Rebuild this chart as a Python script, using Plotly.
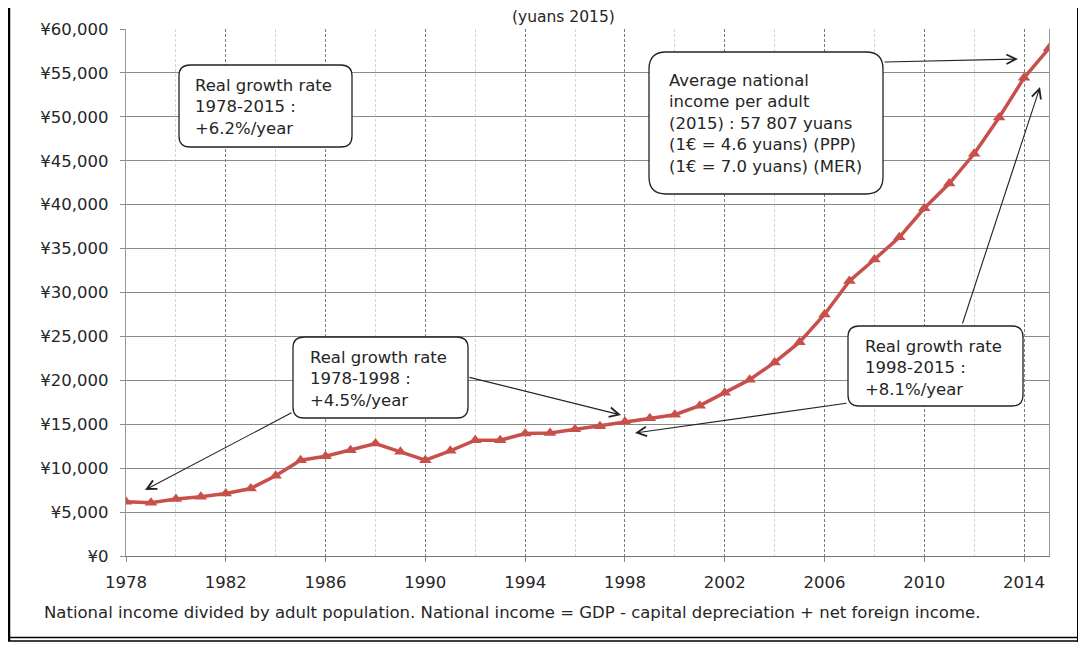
import plotly.graph_objects as go

years = list(range(1978, 2016))
income = [6170, 6060, 6480, 6740, 7120, 7690, 9130, 10910, 11360, 12045,
          12800, 11860, 10910, 11970, 13180, 13180, 13940, 14015, 14430, 14770,
          15280, 15690, 16080, 17120, 18580, 20080, 22040, 24350, 27500, 31320,
          33760, 36280, 39590, 42400, 45790, 49925, 54440, 57807]
y_ticks = list(range(0, 60001, 5000))
x_ticks = list(range(1978, 2015, 4))

title_text = "(yuans 2015)"
footnote = ("National income divided by adult population. National income = GDP - "
            "capital depreciation + net foreign income.")
box_texts = [
    "Real growth rate<br>1978-2015 :<br>+6.2%/year",
    "Real growth rate<br>1978-1998 :<br>+4.5%/year",
    "Real growth rate<br>1998-2015 :<br>+8.1%/year",
    "Average national<br>income per adult<br>(2015) : 57 807 yuans<br>(1€ = 4.6 yuans) (PPP)<br>(1€ = 7.0 yuans) (MER)",
]

# page body has an 8px margin; screen coordinates below are in screenshot pixels
OFF = 8
W, H = 1086 - OFF, 648 - OFF
L, R, T, B = 126, 1049, 29, 556
FONT = "DejaVu Sans, Liberation Sans, sans-serif"
TXT = "#262626"


def px(x):
    return (x - L) / (R - L)


def py(y):
    return (B - y) / (B - T)


def rounded_rect(x0, y0, x1, y1, r):
    def P(x, y):
        return f"{px(x):.5f},{py(y):.5f}"
    return (f"M {P(x0 + r, y0)} L {P(x1 - r, y0)} Q {P(x1, y0)} {P(x1, y0 + r)} "
            f"L {P(x1, y1 - r)} Q {P(x1, y1)} {P(x1 - r, y1)} "
            f"L {P(x0 + r, y1)} Q {P(x0, y1)} {P(x0, y1 - r)} "
            f"L {P(x0, y0 + r)} Q {P(x0, y0)} {P(x0 + r, y0)} Z")


fig = go.Figure()
fig.add_trace(go.Scatter(
    x=years, y=income, mode="lines+markers",
    line=dict(color="#C8504B", width=3.5),
    marker=dict(symbol="triangle-up", size=11, color="#C8504B"),
    showlegend=False, hoverinfo="x+y"))

shapes = []
# outer frame
shapes.append(dict(type="line", xref="paper", yref="paper", x0=px(9), x1=px(9), y0=py(8), y1=py(641),
                   line=dict(color="black", width=2.5)))
shapes.append(dict(type="line", xref="paper", yref="paper", x0=px(1079), x1=px(1079), y0=py(8), y1=py(642),
                   line=dict(color="black", width=4)))
shapes.append(dict(type="line", xref="paper", yref="paper", x0=px(8), x1=px(1079), y0=py(637.5), y1=py(637.5),
                   line=dict(color="black", width=1.5)))
shapes.append(dict(type="line", xref="paper", yref="paper", x0=px(8), x1=px(1079), y0=py(641), y1=py(641),
                   line=dict(color="black", width=1.5)))

boxes = [
    (179, 65, 352, 147, 11),
    (293, 337, 468, 418, 11),
    (848, 326, 1023, 406, 11),
    (649, 52, 883, 194, 17),
]
for (x0, y0, x1, y1, r) in boxes:
    shapes.append(dict(type="path", xref="paper", yref="paper", path=rounded_rect(x0, y0, x1, y1, r),
                       fillcolor="white", line=dict(color="#222", width=1.3), layer="above"))

annotations = []
arrows = [
    (293, 412, 145, 490),
    (468, 377, 621, 415),
    (848, 403, 635, 433),
    (962, 325, 1040, 87),
    (883, 62, 1018, 59),
]
for (tx, ty, hx, hy) in arrows:
    annotations.append(dict(x=px(hx), y=py(hy), xref="paper", yref="paper", text="",
                            showarrow=True, ax=tx - hx, ay=ty - hy, axref="pixel", ayref="pixel",
                            arrowhead=5, arrowsize=1.7, arrowwidth=1.1, arrowcolor="#222",
                            standoff=0, startstandoff=0))

text_pos = [(193, 106.5), (308, 379), (863, 367.5), (667, 123.5)]
for (tx, ty), t in zip(text_pos, box_texts):
    annotations.append(dict(x=px(tx), y=py(ty), xref="paper", yref="paper", text=t,
                            showarrow=False, xanchor="left", yanchor="middle", align="left",
                            font=dict(family=FONT, size=16.5, color=TXT)))

annotations.append(dict(x=px(563), y=py(17), xref="paper", yref="paper", text=title_text,
                        showarrow=False, xanchor="center", yanchor="middle",
                        font=dict(family=FONT, size=15.5, color=TXT)))
annotations.append(dict(x=px(42), y=py(612), xref="paper", yref="paper", text=footnote,
                        showarrow=False, xanchor="left", yanchor="middle",
                        font=dict(family=FONT, size=16.5, color=TXT)))

fig.update_layout(
    width=W, height=H,
    margin=dict(l=L - OFF, r=OFF + W - R, t=T - OFF, b=OFF + H - B, pad=0),
    paper_bgcolor="white", plot_bgcolor="white",
    shapes=shapes, annotations=annotations,
    font=dict(family=FONT, color=TXT),
    xaxis=dict(range=[1978, 2015], tickvals=x_ticks, ticktext=[str(v) for v in x_ticks],
               showgrid=True, gridcolor="#7a7a7a", griddash="3px,2px", gridwidth=1,
               minor=dict(tickvals=list(range(1980, 2015, 4)), showgrid=True, gridcolor="#d4d4d4",
                          gridwidth=1, ticks=""),
               ticks="outside", ticklen=5, tickcolor="#888", tickfont=dict(size=16.5, color=TXT),
               showline=True, linecolor="#777", linewidth=1.2, zeroline=False, ticklabelstandoff=6),
    yaxis=dict(range=[0, 60000], tickvals=y_ticks,
               ticktext=[f"¥{v:,}" for v in y_ticks],
               showgrid=True, gridcolor="#8a8a8a", gridwidth=1.3,
               ticks="outside", ticklen=5, tickcolor="#888", tickfont=dict(size=16.5, color=TXT),
               showline=True, linecolor="#999", linewidth=1.2, mirror=True, zeroline=False,
               ticklabelstandoff=8),
)

fig.write_html("out.html")
